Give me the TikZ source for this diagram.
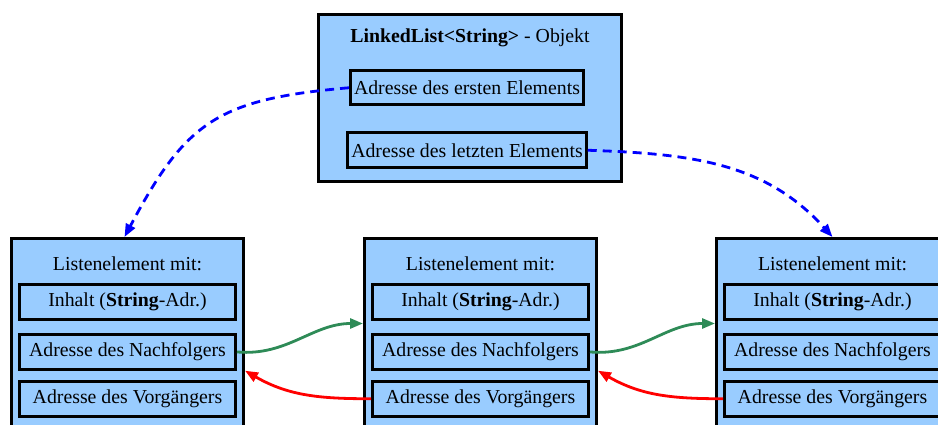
\documentclass[tikz,border=0pt]{standalone}
\usepackage{fontspec}
\setmainfont{Liberation Serif}
\usetikzlibrary{positioning,arrows.meta}
\definecolor{hellblau}{RGB}{153,204,255}
\definecolor{gruen}{RGB}{46,139,87}
\tikzset{>={Triangle[length=13pt,width=10pt]},
schrift/.style={font=\fontsize{19.8}{23}\selectfont},
objekt/.style={rectangle,draw,line width=3pt,fill=hellblau},
element/.style={objekt,minimum width=232pt,minimum height=200pt,anchor=north},
feld/.style={objekt,schrift,inner xsep=3.5pt,minimum height=34.5pt},
lfeld/.style={feld,minimum width=216pt},
verweis/.style={->,blue,line width=2.8pt,dash pattern=on 9pt off 6pt},
vor/.style={->,gruen,line width=2.8pt},
zurueck/.style={->,red,line width=2.8pt},
}
\begin{document}
\begin{tikzpicture}[x=1pt,y=1pt]
	\useasboundingbox (0,0) rectangle (938,424);
	\clip (0,0) rectangle (938,424);

	% LinkedList-Objekt
	\node[objekt,minimum width=303pt,minimum height=167pt,anchor=north] (liste) at (470,411) {};
	\node[schrift] (titel) at ([yshift=-25pt]liste.north) {\textbf{LinkedList<String>} - Objekt};
	\node[feld,below=56pt of liste.north,xshift=-3pt] (erstes) {Adresse des ersten Elements};
	\node[feld,below=25pt of erstes] (letztes) {Adresse des letzten Elements};

	% Listenelemente
	\node[element] (elemA) at (127.5,187) {};
	\node[schrift] (titelA) at ([yshift=-27pt]elemA.north) {Listenelement mit:};
	\node[lfeld,below=46pt of elemA.north] (inhaltA) {Inhalt (\textbf{String}-Adr.)};
	\node[lfeld,below=12.7pt of inhaltA] (nachA) {Adresse des Nachfolgers};
	\node[lfeld,below=9.3pt of nachA] (vorA) {Adresse des Vorgängers};

	\node[element] (elemB) at (480.5,187) {};
	\node[schrift] (titelB) at ([yshift=-27pt]elemB.north) {Listenelement mit:};
	\node[lfeld,below=46pt of elemB.north] (inhaltB) {Inhalt (\textbf{String}-Adr.)};
	\node[lfeld,below=12.7pt of inhaltB] (nachB) {Adresse des Nachfolgers};
	\node[lfeld,below=9.3pt of nachB] (vorB) {Adresse des Vorgängers};

	\node[element] (elemC) at (832.5,187) {};
	\node[schrift] (titelC) at ([yshift=-27pt]elemC.north) {Listenelement mit:};
	\node[lfeld,below=46pt of elemC.north] (inhaltC) {Inhalt (\textbf{String}-Adr.)};
	\node[lfeld,below=12.7pt of inhaltC] (nachC) {Adresse des Nachfolgers};
	\node[lfeld,below=9.3pt of nachC] (vorC) {Adresse des Vorgängers};

	\path
	(erstes.west) edge[verweis,out=185,in=62,looseness=1.25] ([xshift=-3pt]elemA.north)
	(letztes.east) edge[verweis,out=-2,in=132] (elemC.north)
	(nachA.east) edge[vor,out=-5,in=180] ([yshift=-3pt]inhaltB.south -| elemB.west)
	(nachB.east) edge[vor,out=-5,in=180] ([yshift=-3pt]inhaltC.south -| elemC.west)
	(vorB.west) edge[zurueck,out=180,in=-30] (nachA.south -| elemA.east)
	(vorC.west) edge[zurueck,out=180,in=-30] (nachB.south -| elemB.east)
	;
\end{tikzpicture}
\end{document}
